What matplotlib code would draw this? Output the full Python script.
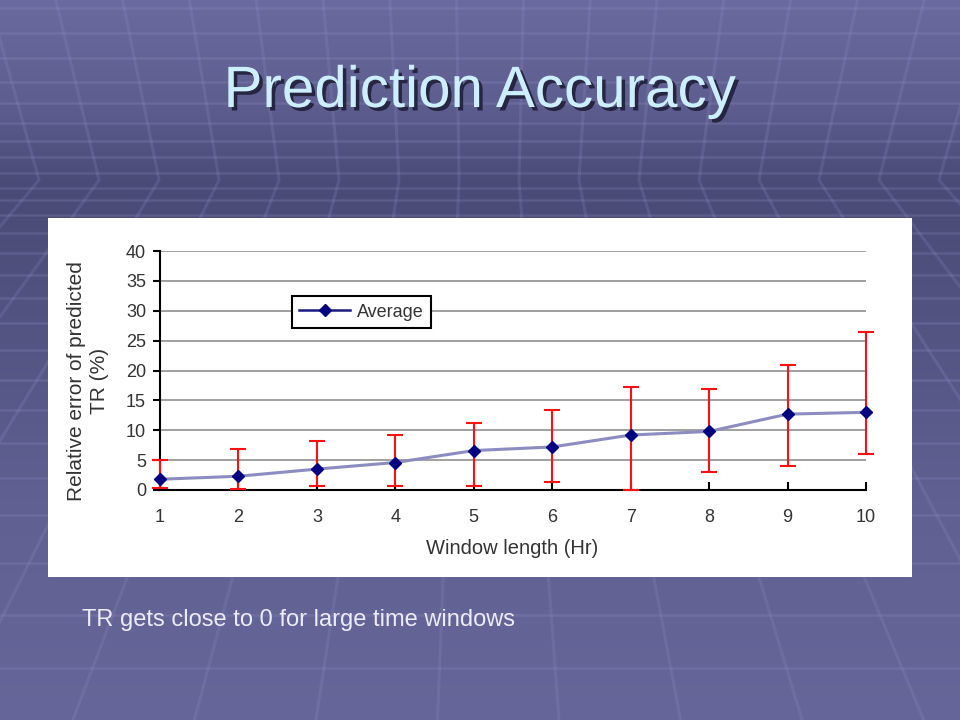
import numpy as np
import matplotlib
matplotlib.use("Agg")
import matplotlib.pyplot as plt
import matplotlib.patheffects as pe
from matplotlib.patches import Rectangle
from matplotlib.lines import Line2D

plt.rcParams['font.family'] = ['Liberation Sans', 'DejaVu Sans']

# data
window_hr = [1, 2, 3, 4, 5, 6, 7, 8, 9, 10]
average = [1.8, 2.3, 3.5, 4.6, 6.6, 7.2, 9.2, 9.8, 12.7, 13.0]
err_top = [5.1, 6.8, 8.2, 9.2, 11.2, 13.4, 17.2, 16.9, 21.0, 26.5]
err_bottom = [0.3, 0.2, 0.6, 0.6, 0.6, 1.3, 0.0, 3.0, 4.0, 6.1]
y_ticks = [0, 5, 10, 15, 20, 25, 30, 35, 40]

fig = plt.figure(figsize=(9.6, 7.2), dpi=100)

############################ slide background ############################
bg = fig.add_axes([0, 0, 1, 1])
bg.set_xlim(0, 960)
bg.set_ylim(720, 0)
bg.axis('off')

stops_y = [0, 100, 185, 300, 500, 720]
stops_c = np.array([[106, 106, 160], [94, 94, 144], [74, 74, 118],
                    [82, 82, 128], [96, 96, 146], [102, 102, 154]]) / 255
yy = np.arange(720)
grad = np.stack([np.interp(yy, stops_y, stops_c[:, k]) for k in range(3)], axis=1)
grad = np.repeat(grad[:, None, :], 2, axis=1)
bg.imshow(grad, extent=[0, 960, 720, 0], aspect='auto', zorder=0)

# perspective grid of the slide template
rows = [8, 33, 58, 82, 103, 123, 141, 157, 173, 188, 200, 215, 233, 253, 275,
        298, 323, 350, 380, 410, 443, 478, 515, 563, 615, 668]
for r in rows:
    bg.plot([0, 960], [r, r], color='#9494cc', alpha=0.22, lw=1.8, zorder=1)

horizon = 180
for h in range(-21, 1000, 60):
    d = 480 - h
    top_x = h - 0.00063 * d * horizon
    bot_x = h - 0.0019 * d * (720 - horizon)
    bg.plot([top_x, h, bot_x], [0, horizon, 720], color='#9494cc', alpha=0.2,
            lw=2.2, zorder=1)

bg.add_patch(Rectangle((48, 218), 864, 359, facecolor='white', edgecolor='none', zorder=2))

title = fig.text(0.5, 1 - 92 / 720, 'Prediction Accuracy', ha='center', va='center',
                 fontsize=42, color='#cdeefc')
title.set_path_effects([pe.withSimplePatchShadow(offset=(2.5, -2.5), shadow_rgbFace='#1c1c34', alpha=0.85)])

fig.text(82 / 960, 1 - 620 / 720, 'TR gets close to 0 for large time windows',
         ha='left', va='center', fontsize=17, color='#ececf8')

############################ chart ############################
ax = fig.add_axes([160 / 960, 230 / 720, 706 / 960, 239 / 720])
ax.set_facecolor('white')
ax.set_xlim(1, 10)
ax.set_ylim(0, 40)

for t in y_ticks[1:]:
    ax.axhline(t, color='#a0a0a0', lw=1.4, zorder=1)

ax.errorbar(window_hr, average,
            yerr=[np.array(average) - np.array(err_bottom), np.array(err_top) - np.array(average)],
            fmt='none', ecolor='#ff1010', elinewidth=1.5, capsize=5.5, capthick=1.5,
            zorder=3, clip_on=False)
ax.plot(window_hr, average, color='#8c8cc0', lw=2.2, zorder=4, clip_on=False)
ax.plot(window_hr, average, linestyle='none', marker='D', markersize=6.5,
        color='#000080', zorder=5, clip_on=False)

for s in ['top', 'right']:
    ax.spines[s].set_visible(False)
for s in ['left', 'bottom']:
    ax.spines[s].set_color('black')
    ax.spines[s].set_linewidth(1.5)

ax.set_xticks(window_hr)
ax.set_yticks(y_ticks)
ax.tick_params(axis='x', direction='in', length=6, width=1.5, pad=14,
               labelsize=13, labelcolor='#333333')
ax.tick_params(axis='y', direction='out', length=5, width=1.5, pad=5,
               labelsize=13, labelcolor='#333333')

handle = Line2D([], [], color='#1a1a80', lw=1.8, marker='D', markersize=6,
                markerfacecolor='#000080', markeredgecolor='#000080')
leg = ax.legend([handle], ['Average'], loc='upper left', bbox_to_anchor=(0.187, 0.81),
                fontsize=13, frameon=True, fancybox=False, handlelength=2.8,
                borderpad=0.4, handletextpad=0.4, borderaxespad=0)
leg.get_frame().set_edgecolor('black')
leg.get_frame().set_linewidth(1.5)
leg.get_frame().set_alpha(1)
for txt in leg.get_texts():
    txt.set_color('#333333')

fig.text(88 / 960, 1 - 381 / 720, 'Relative error of predicted\nTR (%)', rotation=90,
         ha='center', va='center', multialignment='center', fontsize=15,
         color='#333333', linespacing=1.3)
fig.text(512 / 960, 1 - 549 / 720, 'Window length (Hr)', ha='center', va='center',
         fontsize=14.5, color='#333333')

plt.savefig('out.png', dpi=100)
